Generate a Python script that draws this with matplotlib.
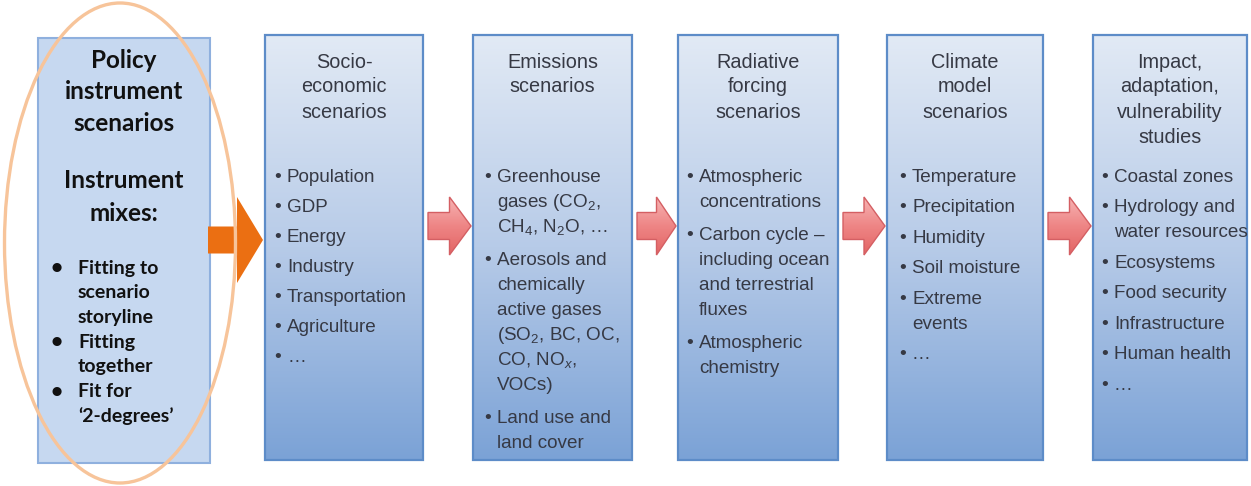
import numpy as np
import matplotlib
matplotlib.use("Agg")
from matplotlib import pyplot as plt
from matplotlib.patches import Rectangle, Polygon, Ellipse
from matplotlib.colors import LinearSegmentedColormap

plt.rcParams["mathtext.fontset"] = "custom"
plt.rcParams["mathtext.rm"] = "Liberation Sans"
plt.rcParams["mathtext.it"] = "Liberation Sans:italic"

# first box: policy instruments (bold, flat fill)
policy_title = ["Policy", "instrument", "scenarios"]
policy_sub = ["Instrument", "mixes:"]
policy_items = [["Fitting to", "scenario", "storyline"],
                ["Fitting", "together"],
                ["Fit for", "\u20182-degrees\u2019"]]

# scenario chain boxes
titles = [
    ["Socio-", "economic", "scenarios"],
    ["Emissions", "scenarios"],
    ["Radiative", "forcing", "scenarios"],
    ["Climate", "model", "scenarios"],
    ["Impact,", "adaptation,", "vulnerability", "studies"],
]
items = [
    [["Population"], ["GDP"], ["Energy"], ["Industry"], ["Transportation"],
     ["Agriculture"], ["\u2026"]],
    [["Greenhouse", "gases (CO$_2$,", "CH$_4$, N$_2$O, \u2026"],
     ["Aerosols and", "chemically", "active gases", "(SO$_2$, BC, OC,", "CO, NO$_x$,", "VOCs)"],
     ["Land use and", "land cover"]],
    [["Atmospheric", "concentrations"],
     ["Carbon cycle \u2013", "including ocean", "and terrestrial", "fluxes"],
     ["Atmospheric", "chemistry"]],
    [["Temperature"], ["Precipitation"], ["Humidity"], ["Soil moisture"],
     ["Extreme", "events"], ["\u2026"]],
    [["Coastal zones"], ["Hydrology and", "water resources"], ["Ecosystems"],
     ["Food security"], ["Infrastructure"], ["Human health"], ["\u2026"]],
]

box_x = [(265, 423), (473, 632), (678, 838), (887, 1043), (1093, 1247)]
item_gap = [30, 33, 33, 30.5, 30.5]
item_indent = [13, 15, 12, 16, 12]

fig = plt.figure(figsize=(12.51, 4.86), dpi=100)
ax = fig.add_axes([0, 0, 1, 1])
ax.set_xlim(0, 1251)
ax.set_ylim(486, 0)
ax.axis("off")

blue_cmap = LinearSegmentedColormap.from_list("b", ["#e2eaf5", "#b7cbe8", "#7ba2d6"])
pink_cmap = LinearSegmentedColormap.from_list("p", ["#f7b4b4", "#ee8585", "#e36464"])
grad = np.linspace(0, 1, 256).reshape(-1, 1)

# policy box
ax.add_patch(Rectangle((38, 38), 172, 425, facecolor="#c6d8f0", edgecolor="#8fb0de", lw=1.5, zorder=1))
bold = dict(family="Lato", weight="bold", color="#111111", ha="center", va="center")
for i, s in enumerate(policy_title):
    ax.text(124, 60 + i * 31.5, s, fontsize=17.5, **bold)
for i, s in enumerate(policy_sub):
    ax.text(124, 180 + i * 33, s, fontsize=17.5, **bold)
y = 268
for grp in policy_items:
    ax.text(50, y, "\u2022", fontsize=15, family="Lato", weight="bold", color="#111111", va="center")
    for s in grp:
        ax.text(78, y, s, fontsize=14, family="Lato", weight="bold", color="#111111", va="center")
        y += 24.7

# scenario boxes
txt = dict(family="Liberation Sans", color="#363944", va="center")
for k, (x0, x1) in enumerate(box_x):
    r = Rectangle((x0, 35), x1 - x0, 425, facecolor="none", edgecolor="#5d8cc8", lw=1.6, zorder=3)
    ax.add_patch(r)
    im = ax.imshow(grad, cmap=blue_cmap, extent=(x0, x1, 460, 35), aspect="auto", zorder=2)
    im.set_clip_path(r)
    xc = (x0 + x1) / 2
    for i, s in enumerate(titles[k]):
        ax.text(xc, 62 + i * 25, s, fontsize=14.3, ha="center", zorder=4, **txt)
    y = 177
    bx = x0 + item_indent[k]
    for grp in items[k]:
        ax.text(bx, y, "\u2022", fontsize=14, ha="center", zorder=4, **txt)
        for j, s in enumerate(grp):
            ax.text(bx + 9, y + j * 25, s, fontsize=13.6, ha="left", zorder=4, **txt)
        y += (len(grp) - 1) * 25 + item_gap[k]


def arrow_pts(x0, xh, xt, yc, bh, hh):
    return [(x0, yc - bh), (xh, yc - bh), (xh, yc - hh), (xt, yc),
            (xh, yc + hh), (xh, yc + bh), (x0, yc + bh)]


# orange arrow from policy box
ax.add_patch(Polygon(arrow_pts(208, 237, 263, 240, 13.5, 43), closed=True,
                     facecolor="#eb6f12", edgecolor="none", zorder=5))

# pink arrows between scenario boxes
for k in range(4):
    x0 = box_x[k][1] + 5
    xt = box_x[k + 1][0] - 2
    xh = x0 + 0.5 * (xt - x0)
    poly = Polygon(arrow_pts(x0, xh, xt, 226, 13.5, 29), closed=True,
                   facecolor="none", edgecolor="#d45f63", lw=1.0, zorder=6)
    ax.add_patch(poly)
    im = ax.imshow(grad, cmap=pink_cmap, extent=(x0, xt, 255, 197), aspect="auto", zorder=5)
    im.set_clip_path(poly)

# highlight ellipse around policy box
ax.add_patch(Ellipse((120, 243), 231, 480, facecolor="none", edgecolor="#f7c49a", lw=2.4, zorder=7))

fig.savefig("out.png", dpi=100)
